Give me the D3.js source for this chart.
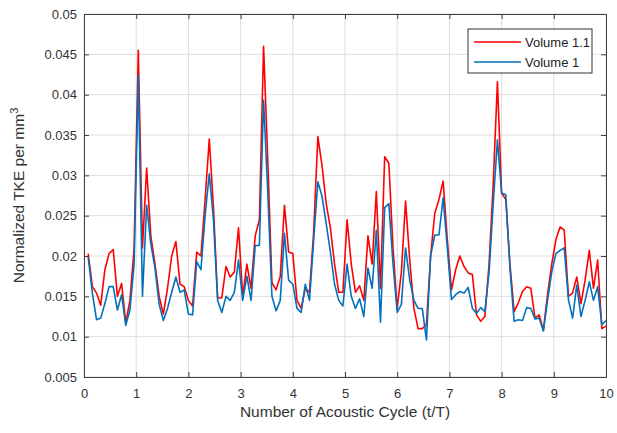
<!DOCTYPE html>
<html><head><meta charset="utf-8">
<script src="https://cdn.jsdelivr.net/npm/d3@7"></script>
<style>body{margin:0;background:#fff}svg{display:block}text{font-family:"Liberation Sans",Arial,sans-serif}</style>
</head><body><svg id="c" width="617" height="433"></svg>
<script>
const dt = 0.08;
const volume11 = [0.0203,0.0162,0.0154,0.0139,0.0183,0.0203,0.0208,0.0150,0.0166,0.0117,
0.0145,0.0210,0.0455,0.0210,0.0309,0.0225,0.0190,0.0150,0.0128,0.0160,
0.0200,0.0218,0.0165,0.0162,0.0145,0.0138,0.0205,0.0200,0.0270,0.0345,
0.0260,0.0148,0.0148,0.0187,0.0174,0.0180,0.0235,0.0150,0.0190,0.0160,
0.0225,0.0245,0.0460,0.0320,0.0167,0.0158,0.0175,0.0263,0.0205,0.0203,
0.0145,0.0135,0.0160,0.0155,0.0230,0.0348,0.0312,0.0265,0.0235,0.0190,
0.0155,0.0155,0.0245,0.0190,0.0155,0.0163,0.0145,0.0225,0.0190,0.0280,
0.0160,0.0323,0.0315,0.0210,0.0135,0.0180,0.0268,0.0195,0.0135,0.0110,
0.0110,0.0115,0.0200,0.0253,0.0270,0.0293,0.0220,0.0158,0.0183,0.0200,
0.0187,0.0179,0.0177,0.0127,0.0119,0.0125,0.0190,0.0290,0.0416,0.0278,
0.0270,0.0190,0.0131,0.0142,0.0156,0.0162,0.0160,0.0123,0.0127,0.0108,
0.0152,0.0190,0.0220,0.0236,0.0232,0.0150,0.0154,0.0174,0.0141,0.0170,
0.0207,0.0160,0.0195,0.0110,0.0113];
const volume1 = [0.0199,0.0154,0.0121,0.0123,0.0141,0.0162,0.0162,0.0133,0.0152,0.0114,
0.0133,0.0190,0.0424,0.0150,0.0263,0.0215,0.0185,0.0140,0.0120,0.0135,
0.0155,0.0174,0.0155,0.0158,0.0128,0.0127,0.0193,0.0183,0.0250,0.0302,
0.0245,0.0145,0.0130,0.0150,0.0145,0.0155,0.0195,0.0145,0.0175,0.0145,
0.0213,0.0213,0.0393,0.0280,0.0150,0.0132,0.0145,0.0228,0.0170,0.0165,
0.0135,0.0130,0.0165,0.0145,0.0220,0.0292,0.0274,0.0240,0.0205,0.0165,
0.0145,0.0138,0.0190,0.0150,0.0135,0.0147,0.0125,0.0185,0.0160,0.0232,
0.0118,0.0260,0.0265,0.0190,0.0130,0.0140,0.0210,0.0170,0.0145,0.0135,
0.0135,0.0096,0.0200,0.0226,0.0226,0.0272,0.0210,0.0146,0.0152,0.0156,
0.0154,0.0161,0.0135,0.0129,0.0136,0.0131,0.0180,0.0265,0.0344,0.0278,
0.0276,0.0185,0.0119,0.0121,0.0120,0.0136,0.0135,0.0122,0.0123,0.0107,
0.0145,0.0180,0.0203,0.0207,0.0210,0.0146,0.0123,0.0164,0.0125,0.0145,
0.0168,0.0145,0.0162,0.0115,0.0120];
const xTicks = [0,1,2,3,4,5,6,7,8,9,10];
const yTicks = [0.005,0.01,0.015,0.02,0.025,0.03,0.035,0.04,0.045,0.05];
const yTickLabels = ["0.005","0.01","0.015","0.02","0.025","0.03","0.035","0.04","0.045","0.05"];
const seriesNames = ["Volume 1.1","Volume 1"];
const seriesColors = ["#ff0000","#0072bd"];

const svg = d3.select("#c");
const L=84,R=606,T=14,B=377;
const x = d3.scaleLinear().domain([0,10]).range([L,R]);
const y = d3.scaleLinear().domain([0.005,0.05]).range([B,T]);

// grid
const g = svg.append("g");
g.selectAll(".gx").data(xTicks).join("line")
 .attr("x1",d=>x(d)).attr("x2",d=>x(d)).attr("y1",T).attr("y2",B)
 .attr("stroke","#dedede").attr("stroke-width",1);
g.selectAll(".gy").data(yTicks).join("line")
 .attr("x1",L).attr("x2",R).attr("y1",d=>y(d)).attr("y2",d=>y(d))
 .attr("stroke","#dedede").attr("stroke-width",1);

// axes
const axColor="#404040";
svg.append("g").attr("transform",`translate(0,${B})`)
 .call(d3.axisBottom(x).tickValues(xTicks).tickSize(-5).tickPadding(12).tickFormat(d3.format("d")));
svg.append("g").attr("transform",`translate(${L},0)`)
 .call(d3.axisLeft(y).tickValues(yTicks).tickSize(-5).tickPadding(7).tickFormat((d,i)=>yTickLabels[i]));
svg.append("g").attr("transform",`translate(0,${T})`)
 .call(d3.axisTop(x).tickValues(xTicks).tickSize(-5).tickFormat(""));
svg.append("g").attr("transform",`translate(${R},0)`)
 .call(d3.axisRight(y).tickValues(yTicks).tickSize(-5).tickFormat(""));
svg.selectAll(".domain").attr("stroke",axColor).attr("stroke-width",1);
svg.selectAll(".tick line").attr("stroke",axColor);
svg.selectAll(".tick text").attr("fill","#333").attr("font-size","13px");

// lines
const line = d3.line().x((d,i)=>x((i+1)*dt)).y(d=>y(d));
[volume11, volume1].forEach((s,j)=>{
  svg.append("path").datum(s).attr("d",line).attr("fill","none")
   .attr("stroke",seriesColors[j]).attr("stroke-width",1.6).attr("stroke-linejoin","round");
});

// labels
svg.append("text").attr("x",(L+R)/2).attr("y",417).attr("text-anchor","middle")
 .attr("font-size","15.5px").attr("fill","#333").text("Number of Acoustic Cycle (t/T)");
const yl = svg.append("text").attr("transform",`translate(24,${(T+B)/2}) rotate(-90)`)
 .attr("text-anchor","middle").attr("font-size","15.5px").attr("fill","#333");
yl.append("tspan").text("Normalized TKE per mm");
yl.append("tspan").attr("dy",-6).attr("font-size","11px").text("3");

// legend
const lg = svg.append("g");
lg.append("rect").attr("x",468).attr("y",29).attr("width",124).attr("height",44)
 .attr("fill","#fff").attr("stroke","#333").attr("stroke-width",1);
seriesNames.forEach((n,i)=>{
  const yy = 42 + i*20;
  lg.append("line").attr("x1",474).attr("x2",521).attr("y1",yy).attr("y2",yy)
   .attr("stroke",seriesColors[i]).attr("stroke-width",1.6);
  lg.append("text").attr("x",525).attr("y",yy+5).attr("font-size","13px").attr("fill","#222").text(n);
});
</script></body></html>
